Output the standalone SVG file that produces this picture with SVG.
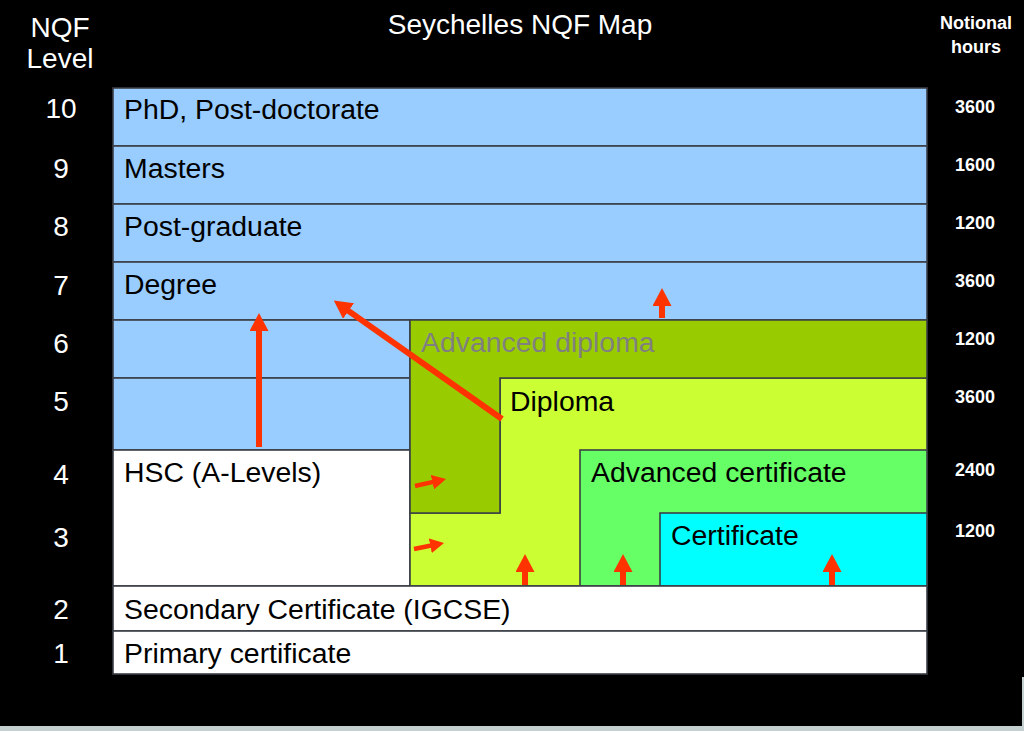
<svg xmlns="http://www.w3.org/2000/svg" width="1024" height="731" viewBox="0 0 1024 731">
<style>
.cell{stroke:#3a3f46;stroke-width:1.6}
.blue{fill:#99ccff}
.white{fill:#ffffff}
.t{font-family:"Liberation Sans",Arial,sans-serif;font-size:28.4px;fill:#000}
.w{font-family:"Liberation Sans",Arial,sans-serif;fill:#fff}
.lvl{font-size:28px;text-anchor:middle}
.hr{font-size:18px;font-weight:bold;text-anchor:middle}
.arr{stroke:#ff3300;stroke-width:6;fill:none}
.arrs{stroke:#ff3300;stroke-width:4.5;fill:none}
</style>
<defs>
<marker id="ah" markerUnits="userSpaceOnUse" markerWidth="18" markerHeight="19" viewBox="0 0 18 19" refX="1" refY="9.5" orient="auto">
<path d="M0,0 L18,9.5 L0,19 z" fill="#ff3300"/>
</marker>
<marker id="ahs" markerUnits="userSpaceOnUse" markerWidth="14" markerHeight="15" viewBox="0 0 14 15" refX="1" refY="7.5" orient="auto">
<path d="M0,0 L14,7.5 L0,15 z" fill="#ff3300"/>
</marker>
</defs>
<rect x="0" y="0" width="1024" height="731" fill="#000"/>
<rect x="0" y="726" width="1024" height="5" fill="#c4cfcf"/>
<rect x="1022" y="677" width="2" height="54" fill="#c4cfcf"/>

<g id="header">
<text class="w" x="520" y="34" font-size="28" text-anchor="middle">Seychelles NQF Map</text>
<text class="w" x="60" y="37" font-size="28" text-anchor="middle">NQF</text>
<text class="w" x="60" y="68" font-size="28" text-anchor="middle">Level</text>
<text class="w" x="976" y="29" font-size="18" font-weight="bold" text-anchor="middle">Notional</text>
<text class="w" x="976" y="53" font-size="18" font-weight="bold" text-anchor="middle">hours</text>
</g>

<g id="levels">
<text class="w lvl" x="61" y="118">10</text>
<text class="w lvl" x="61" y="178">9</text>
<text class="w lvl" x="61" y="236">8</text>
<text class="w lvl" x="61" y="295">7</text>
<text class="w lvl" x="61" y="353">6</text>
<text class="w lvl" x="61" y="411">5</text>
<text class="w lvl" x="61" y="484">4</text>
<text class="w lvl" x="61" y="547">3</text>
<text class="w lvl" x="61" y="619">2</text>
<text class="w lvl" x="61" y="663">1</text>
</g>

<g id="hours">
<text class="w hr" x="975" y="113">3600</text>
<text class="w hr" x="975" y="171">1600</text>
<text class="w hr" x="975" y="229">1200</text>
<text class="w hr" x="975" y="287">3600</text>
<text class="w hr" x="975" y="345">1200</text>
<text class="w hr" x="975" y="403">3600</text>
<text class="w hr" x="975" y="476">2400</text>
<text class="w hr" x="975" y="537">1200</text>
</g>

<g id="phd"><rect class="cell blue" x="113" y="88" width="814" height="58"/><text class="t" x="124" y="119">PhD, Post-doctorate</text></g>
<g id="masters"><rect class="cell blue" x="113" y="146" width="814" height="58"/><text class="t" x="124" y="178">Masters</text></g>
<g id="postgrad"><rect class="cell blue" x="113" y="204" width="814" height="58"/><text class="t" x="124" y="236">Post-graduate</text></g>
<g id="degree"><rect class="cell blue" x="113" y="262" width="814" height="58"/><text class="t" x="124" y="294">Degree</text></g>
<g id="degree6"><rect class="cell blue" x="113" y="320" width="297" height="58"/></g>
<g id="degree5"><rect class="cell blue" x="113" y="378" width="297" height="72"/></g>
<g id="hsc"><rect class="cell white" x="113" y="450" width="297" height="136"/><text class="t" x="124" y="482">HSC (A-Levels)</text></g>
<g id="diploma"><path class="cell" fill="#ccff33" d="M500,378 H927 V586 H410 V513 H500 Z"/><text class="t" x="510" y="411">Diploma</text></g>
<g id="advdiploma"><path class="cell" fill="#99cc00" d="M410,320 H927 V378 H500 V513 H410 Z"/><text class="t" x="421" y="352" style="fill:#808080">Advanced diploma</text></g>
<g id="advcert"><rect class="cell" fill="#66ff66" x="580" y="450" width="347" height="136"/><text class="t" x="591" y="482">Advanced certificate</text></g>
<g id="cert"><rect class="cell" fill="#00ffff" x="660" y="513" width="267" height="73"/><text class="t" x="671" y="545">Certificate</text></g>
<g id="secondary"><rect class="cell white" x="113" y="586" width="814" height="45"/><text class="t" x="124" y="619">Secondary Certificate (IGCSE)</text></g>
<g id="primary"><rect class="cell white" x="113" y="631" width="814" height="43"/><text class="t" x="124" y="663">Primary certificate</text></g>

<g id="connectors">
<line class="arr" x1="259" y1="447" x2="259" y2="330" marker-end="url(#ah)"/>
<line class="arr" x1="502" y1="419" x2="347.7" y2="310.4" marker-end="url(#ah)"/>
<line class="arr" x1="662" y1="318" x2="662" y2="305" marker-end="url(#ah)"/>
<line class="arr" x1="525" y1="585" x2="525" y2="571" marker-end="url(#ah)"/>
<line class="arr" x1="623" y1="585" x2="623" y2="571" marker-end="url(#ah)"/>
<line class="arr" x1="832" y1="585" x2="832" y2="571" marker-end="url(#ah)"/>
<line class="arrs" x1="415" y1="486" x2="433.3" y2="481.9" marker-end="url(#ahs)"/>
<line class="arrs" x1="414" y1="549" x2="431.3" y2="545.5" marker-end="url(#ahs)"/>
</g>
</svg>
